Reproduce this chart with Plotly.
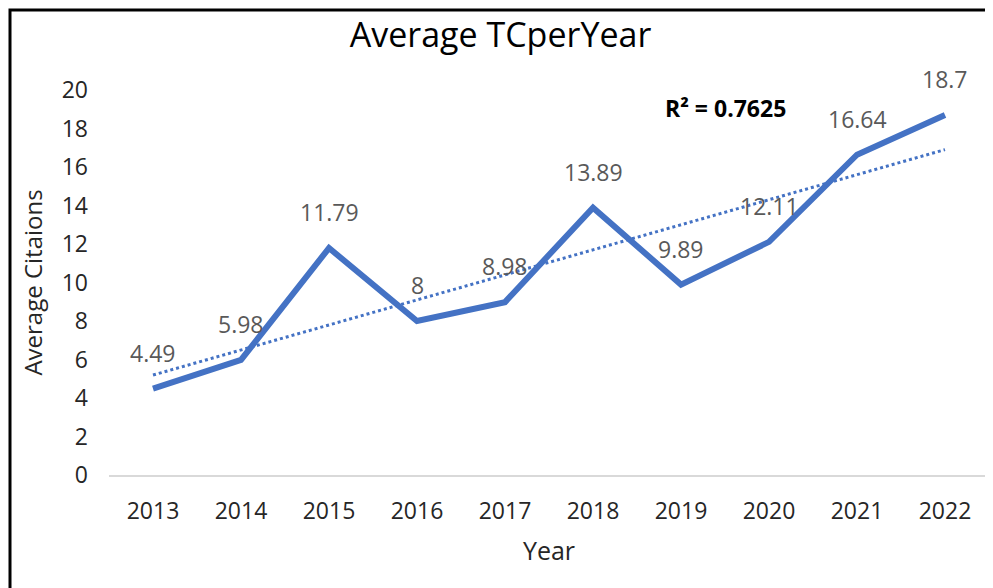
import numpy as np
import plotly.graph_objects as go

# Data
years = ["2013", "2014", "2015", "2016", "2017", "2018", "2019", "2020", "2021", "2022"]
avg_tc = [4.49, 5.98, 11.79, 8, 8.98, 13.89, 9.89, 12.11, 16.64, 18.7]
label_text = ["4.49", "5.98", "11.79", "8", "8.98", "13.89", "9.89", "12.11", "16.64", "18.7"]
r2_text = "R² = 0.7625"

BLUE = "#4472C4"
FONT = "Open Sans, Noto Sans, sans-serif"

# Linear trendline (as Excel does it)
idx = np.arange(len(years))
slope, intercept = np.polyfit(idx, avg_tc, 1)
trend = slope * idx + intercept

fig = go.Figure()

fig.add_trace(go.Scatter(
    x=years, y=trend, mode="lines",
    line=dict(color=BLUE, width=3, dash="dot"),
    showlegend=False, hoverinfo="skip",
))

fig.add_trace(go.Scatter(
    x=years, y=avg_tc, mode="lines",
    line=dict(color=BLUE, width=6),
    showlegend=False,
))

# Data labels above each point (category index, since years look numeric)
for i, (v, t) in enumerate(zip(avg_tc, label_text)):
    fig.add_annotation(
        x=i, y=v, text=t, showarrow=False, yshift=36,
        font=dict(family=FONT, size=23, color="#595959"),
    )

fig.add_annotation(
    x=6.5, y=19.05, text=f"<b>{r2_text}</b>", showarrow=False,
    font=dict(family=FONT, size=23, color="#000000"),
)

# Outer frame
fig.add_shape(
    type="rect", xref="paper", yref="paper",
    x0=-0.1125, x1=1.001, y0=-0.4, y1=1.2078,
    line=dict(color="#000000", width=3), fillcolor="rgba(0,0,0,0)",
    layer="above",
)

fig.update_layout(
    width=985, height=580,
    margin=dict(l=101, r=4, t=82, b=113),
    paper_bgcolor="white", plot_bgcolor="white",
    title=dict(
        text="Average TCperYear", x=0.5, xanchor="center",
        y=0.953, yanchor="middle",
        font=dict(family=FONT, size=34, color="#000000"),
    ),
    font=dict(family=FONT, color="#404040"),
)

fig.update_xaxes(
    type="category", range=[-0.5, 9.5],
    showgrid=False, showline=True, linecolor="#D9D9D9", linewidth=2,
    ticks="", ticklabelstandoff=14,
    tickfont=dict(family=FONT, size=23, color="#262626"),
    title=dict(text="Year", font=dict(family=FONT, size=25, color="#262626"), standoff=18),
)
fig.update_yaxes(
    range=[0, 20], dtick=2, showgrid=False, zeroline=False,
    showline=False, ticks="", ticklabelstandoff=20,
    tickfont=dict(family=FONT, size=23, color="#262626"),
    title=dict(text="Average Citaions", font=dict(family=FONT, size=24, color="#262626"), standoff=12),
)

fig.write_html("out.html")
